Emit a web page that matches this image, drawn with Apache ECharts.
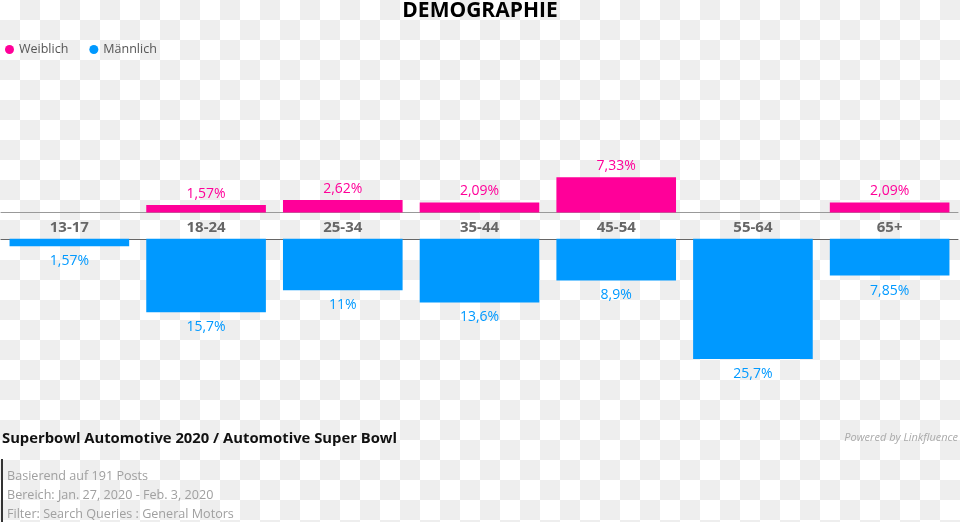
<!DOCTYPE html>
<html>
<head>
<meta charset="utf-8">
<script src="https://cdn.jsdelivr.net/npm/echarts@6/dist/echarts.min.js"></script>
<style>
html,body{margin:0;padding:0;}
body{width:960px;height:522px;background-color:#fff;background-image:conic-gradient(#eee 25%,#fff 0 50%,#eee 0 75%,#fff 0);background-size:40px 40px;}
#chart{width:960px;height:522px;}
</style>
</head>
<body>
<div id="chart"></div>
<script>
var categories = ['13-17', '18-24', '25-34', '35-44', '45-54', '55-64', '65+'];
var weiblich = [null, 1.57, 2.62, 2.09, 7.33, null, 2.09];
var maennlich = [1.57, 15.7, 11, 13.6, 8.9, 25.7, 7.85];
var titleText = 'DEMOGRAPHIE';
var footerTitle = 'Superbowl Automotive 2020 / Automotive Super Bowl';
var poweredBy = 'Powered by Linkfluence';
var infoLines = ['Basierend auf 191 Posts', 'Bereich: Jan. 27, 2020 - Feb. 3, 2020', 'Filter: Search Queries : General Motors'];

var PINK = '#ff0099';
var BLUE = '#0099ff';
var FONT = 'Open Sans';

function fmt(p) {
  return String(p.value).replace('.', ',') + '%';
}

var chart = echarts.init(document.getElementById('chart'), null, {renderer: 'canvas'});
chart.setOption({
  backgroundColor: 'transparent',
  animation: false,
  title: {
    text: titleText,
    left: 'center',
    top: -4,
    textStyle: {fontFamily: FONT, fontWeight: 'bold', fontSize: 21, color: '#000'}
  },
  legend: {
    left: 0,
    top: 38,
    icon: 'circle',
    itemWidth: 9,
    itemHeight: 9,
    itemGap: 21,
    data: ['Weiblich', 'Männlich'],
    textStyle: {fontFamily: FONT, fontSize: 12.5, color: '#555'}
  },
  grid: [
    {left: 1, right: 2, top: 116.5, height: 96},
    {left: 1, right: 2, top: 238.8, height: 140.4}
  ],
  xAxis: [
    {
      type: 'category', gridIndex: 0, data: categories, position: 'bottom',
      axisLine: {lineStyle: {color: '#999', width: 1}},
      axisTick: {show: false},
      axisLabel: {fontFamily: FONT, fontWeight: 'bold', fontSize: 15, color: '#666', margin: 8}
    },
    {
      type: 'category', gridIndex: 1, data: categories, position: 'top',
      axisLine: {lineStyle: {color: '#666', width: 1}},
      axisTick: {show: false},
      axisLabel: {show: false}
    }
  ],
  yAxis: [
    {type: 'value', gridIndex: 0, min: 0, max: 20, show: false, splitLine: {show: false}},
    {type: 'value', gridIndex: 1, min: 0, max: 30, inverse: true, show: false, splitLine: {show: false}}
  ],
  series: [
    {
      name: 'Weiblich', type: 'bar', xAxisIndex: 0, yAxisIndex: 0,
      data: weiblich, barCategoryGap: '12.5%',
      itemStyle: {color: PINK},
      label: {show: true, position: 'top', distance: 4, formatter: fmt,
        fontFamily: FONT, fontSize: 14, color: PINK}
    },
    {
      name: 'Männlich', type: 'bar', xAxisIndex: 1, yAxisIndex: 1,
      data: maennlich, barCategoryGap: '12.5%',
      itemStyle: {color: BLUE},
      label: {show: true, position: 'bottom', distance: 8, formatter: fmt,
        fontFamily: FONT, fontSize: 14, color: BLUE}
    }
  ],
  graphic: [
    {type: 'text', left: 2, top: 431, style: {text: footerTitle, font: 'bold 14.8px "Open Sans"', fill: '#111'}},
    {type: 'text', right: 2, top: 432, style: {text: poweredBy, font: 'italic 11px "Open Sans"', fill: '#aaa'}},
    {type: 'rect', shape: {x: 1, y: 459, width: 2, height: 63}, style: {fill: '#333'}},
    {type: 'text', left: 7, top: 470, style: {text: infoLines[0], font: '12.6px "Open Sans"', fill: '#a0a0a0'}},
    {type: 'text', left: 7, top: 489, style: {text: infoLines[1], font: '12.6px "Open Sans"', fill: '#a0a0a0'}},
    {type: 'text', left: 7, top: 508, style: {text: infoLines[2], font: '12.6px "Open Sans"', fill: '#a0a0a0'}}
  ]
});
</script>
</body>
</html>
